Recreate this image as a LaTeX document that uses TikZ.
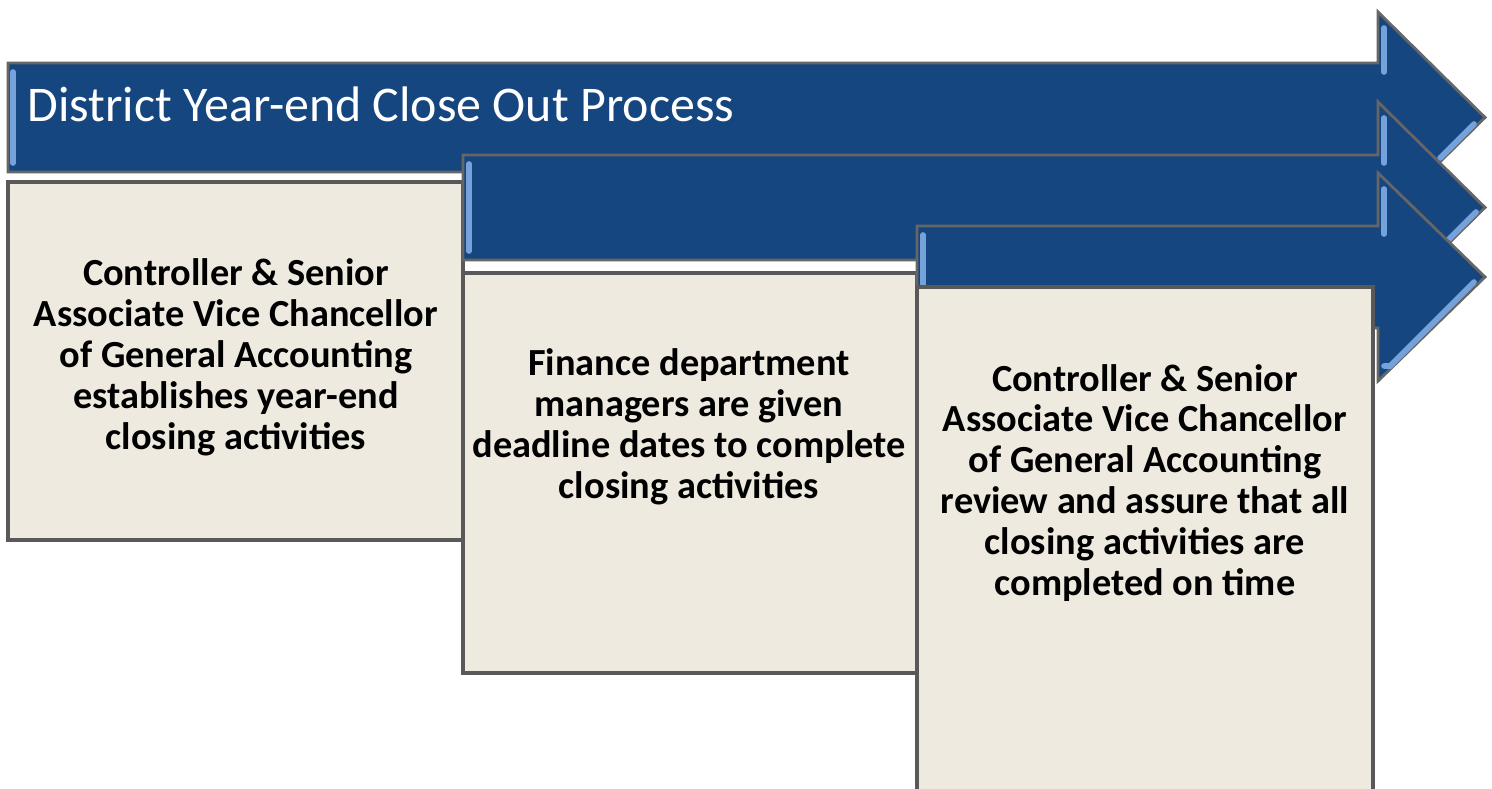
\documentclass[tikz,border=0pt]{standalone}
\usepackage{fontspec}
\setmainfont{Carlito}
\definecolor{barblue}{RGB}{22,70,128}
\definecolor{barlight}{RGB}{118,162,220}
\definecolor{boxfill}{RGB}{238,234,224}

\begin{document}
\begin{tikzpicture}[x=0.01cm,y=-0.01cm,
    bar/.style={fill=barblue,draw=black!60,line width=0.8pt,line join=miter},
    barshine/.style={barlight,line width=1.6pt,line cap=round},
    stepbox/.style={draw=black!65,fill=boxfill,line width=1.1pt,inner sep=0pt},
    steptext/.style={font=\bfseries\fontsize{10.9}{11.65}\selectfont,align=center,text=black,inner sep=0pt}]
    \clip (0,0) rectangle (1492,789);
    \fill[white] (0,0) rectangle (1492,789);
    % Arrow 1
    \draw[bar] (8,63) -- (1378,63) -- (1378,12) -- (1485,117.5) -- (1378,223) -- (1378,172) -- (8,172) -- cycle;
    \draw[barshine] (13,72) -- (13,163);
    \draw[barshine] (1384,28) -- (1384,72);
    \draw[barshine] (1474,124) -- (1440,158);
    \node[anchor=base west,inner sep=0pt,text=white,font=\fontsize{14.2}{16}\selectfont] (title) at (27,122) {District Year-end Close Out Process};
    % Box 1
    \node[stepbox,minimum width=4.55cm,minimum height=3.58cm] (box1) at (235.5,361) {};
    \node[steptext] (text1) at (236,357) {Controller \& Senior\\Associate Vice Chancellor\\of General Accounting\\establishes year-end\\closing activities};
    % Arrow 2
    \draw[bar] (463,155) -- (1378,155) -- (1378,102) -- (1485,207.5) -- (1378,313) -- (1378,260) -- (463,260) -- cycle;
    \draw[barshine] (469,164) -- (469,251);
    \draw[barshine] (1384,118) -- (1384,163);
    \draw[barshine] (1476,212) -- (1440,248);
    % Box 2
    \node[stepbox,minimum width=4.54cm,minimum height=4.00cm] (box2) at (690,473) {};
    \node[steptext] (text2) at (689,427) {Finance department\\managers are given\\deadline dates to complete\\closing activities};
    % Arrow 3
    \draw[bar] (917,226) -- (1378,226) -- (1378,173) -- (1485,277) -- (1378,381) -- (1378,328) -- (917,328) -- cycle;
    \draw[barshine] (923,235) -- (923,284);
    \draw[barshine] (1384,189) -- (1384,234);
    \draw[barshine] (1474,282) -- (1390,366) -- (1384,366);
    % Box 3
    \node[stepbox,minimum width=4.56cm,minimum height=5.13cm] (box3) at (1145,543.5) {};
    \node[steptext] (text3) at (1145,483) {Controller \& Senior\\Associate Vice Chancellor\\of General Accounting\\review and assure that all\\closing activities are\\completed on time};
\end{tikzpicture}
\end{document}
